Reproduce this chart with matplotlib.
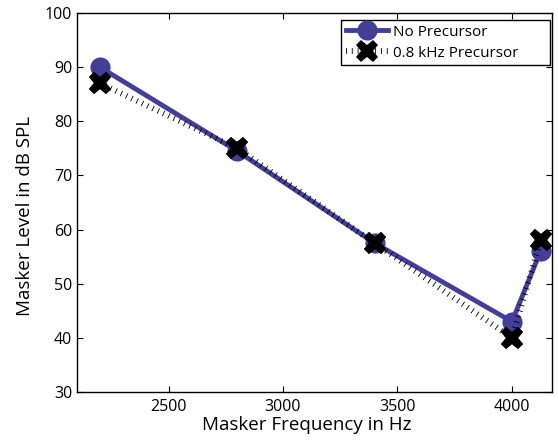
import matplotlib.pyplot as plt
import numpy as np

# data
freq = [2200, 2800, 3400, 4000, 4125]
no_precursor = [90, 74.5, 57.5, 43, 56]
precursor_08 = [87, 75, 57.5, 40, 58]

plt.rcParams['font.family'] = ['Open Sans', 'DejaVu Sans']

fig = plt.figure(figsize=(5.58, 4.42), dpi=100)
ax = fig.add_axes([77/558, 50/442, (552-77)/558, (392-13)/442])

blue = '#433f98'

ax.plot(freq, precursor_08, color='black', linewidth=4.2,
        linestyle=(0, (0.15, 0.85)), dash_capstyle='butt',
        marker='X', markersize=16, markeredgewidth=0, zorder=2,
        label='0.8 kHz Precursor')
ax.plot(freq, no_precursor, color=blue, linewidth=3.5,
        marker='o', markersize=14.5, markeredgewidth=0, zorder=1,
        label='No Precursor')
# redraw x markers above the blue line
ax.plot(freq, precursor_08, linestyle='none', color='black',
        marker='X', markersize=16, markeredgewidth=0, zorder=3)

ax.set_xlim(2100, 4175)
ax.set_ylim(30, 100)
ax.set_xticks([2500, 3000, 3500, 4000])
ax.set_yticks(np.arange(30, 101, 10))
ax.tick_params(direction='in', top=True, right=True, labelsize=11.5,
               length=4)
ax.tick_params(axis='x', pad=5)
for s in ax.spines.values():
    s.set_linewidth(1)

ax.set_xlabel('Masker Frequency in Hz', fontsize=13.5, labelpad=1)
ax.set_ylabel('Masker Level in dB SPL', fontsize=13.5, labelpad=8)
ax.xaxis.label.set_x(0.484)
ax.yaxis.label.set_y(0.465)

h, l = ax.get_legend_handles_labels()
leg = ax.legend([h[1], h[0]], [l[1], l[0]], loc='upper left', fontsize=11,
                bbox_to_anchor=(341/558, 1 - 70/442, 209/558, 50/442),
                bbox_transform=fig.transFigure, mode='expand',
                fancybox=False, edgecolor='black', framealpha=1,
                handlelength=2.8, borderpad=0.3, labelspacing=0.4,
                handletextpad=0.3, borderaxespad=0)
leg.get_frame().set_linewidth(1)

fig.savefig('out.png', dpi=100)
